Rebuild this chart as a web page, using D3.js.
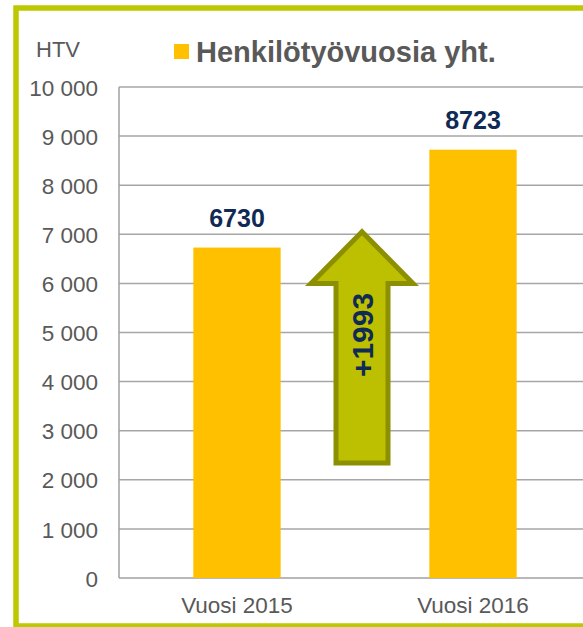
<!DOCTYPE html>
<html>
<head>
<meta charset="utf-8">
<script src="https://cdn.jsdelivr.net/npm/d3@7"></script>
<style>
	body { margin: 0; background: #fff; }
	svg text { font-family: "Liberation Sans", Arial, sans-serif; }
</style>
</head>
<body>
<div id="wrapper"></div>
<script>

// 1. Data

const categories = ["Vuosi 2015", "Vuosi 2016"];
const values = [6730, 8723];
const yTicks = [0, 1000, 2000, 3000, 4000, 5000, 6000, 7000, 8000, 9000, 10000];
const seriesName = "Henkilötyövuosia yht.";
const unitLabel = "HTV";
const change = values[1] - values[0];
// arrow annotation, in data units
const arrowBottom = 2340;
const arrowHeadBase = 6000;
const arrowTip = 7050;

// 2. Dimensions

let dimensions = {
	width: 583,
	height: 627,
	margin: { top: 87, right: -8, bottom: 49, left: 119 }
};
dimensions.boundedWidth = dimensions.width - dimensions.margin.left - dimensions.margin.right;
dimensions.boundedHeight = dimensions.height - dimensions.margin.top - dimensions.margin.bottom;

const wrapper = d3.select("#wrapper")
	.append("svg")
	.attr("width", dimensions.width)
	.attr("height", dimensions.height);

// frame
wrapper.append("rect")
	.attr("x", 16)
	.attr("y", 8)
	.attr("width", 640)
	.attr("height", 618)
	.style("fill", "none")
	.style("stroke", "#bec800")
	.style("stroke-width", 5.5);

const bounds = wrapper.append("g")
	.attr("transform", `translate(${dimensions.margin.left},${dimensions.margin.top})`);

// 3. Scales

const yScale = d3.scaleLinear()
	.domain([0, 10000])
	.range([dimensions.boundedHeight, 0]);

const xScale = d3.scaleBand()
	.domain(categories)
	.range([0, dimensions.boundedWidth])
	.paddingInner(0.63)
	.paddingOuter(0.315);

const fmt = d3.formatLocale({ decimal: ",", thousands: "\u00a0", grouping: [3], currency: ["", ""] }).format(",");

// 4. Grid and axes

bounds.append("g")
	.selectAll("line")
	.data(yTicks.filter(d => d > 0))
	.join("line")
	.attr("x1", 0)
	.attr("x2", dimensions.boundedWidth)
	.attr("y1", d => yScale(d))
	.attr("y2", d => yScale(d))
	.style("stroke", "#a6a6a6")
	.style("stroke-width", 1.5);

const yAxis = d3.axisLeft(yScale)
	.tickValues(yTicks)
	.tickSize(0)
	.tickPadding(21)
	.tickFormat(d => fmt(d));

const yAxisG = bounds.append("g").call(yAxis);
yAxisG.select(".domain").remove();
yAxisG.selectAll("text")
	.style("font-size", "22.5px")
	.style("fill", "#595959")
	.attr("dy", "0.36em");

const xAxis = d3.axisBottom(xScale).tickSize(0).tickPadding(19);
const xAxisG = bounds.append("g")
	.attr("transform", `translate(0,${dimensions.boundedHeight})`)
	.call(xAxis);
xAxisG.select(".domain").remove();
xAxisG.selectAll("text")
	.style("font-size", "22.5px")
	.style("fill", "#595959");

// axis lines
bounds.append("line")
	.attr("x1", 0).attr("x2", 0)
	.attr("y1", 0).attr("y2", dimensions.boundedHeight)
	.style("stroke", "#a0a0a0")
	.style("stroke-width", 1.5);
bounds.append("line")
	.attr("x1", 0).attr("x2", dimensions.boundedWidth)
	.attr("y1", dimensions.boundedHeight).attr("y2", dimensions.boundedHeight)
	.style("stroke", "#a0a0a0")
	.style("stroke-width", 1.5);

// 5. Bars

bounds.selectAll("rect.bar")
	.data(values)
	.join("rect")
	.attr("class", "bar")
	.attr("x", (d, i) => xScale(categories[i]))
	.attr("y", d => yScale(d))
	.attr("width", xScale.bandwidth())
	.attr("height", d => dimensions.boundedHeight - yScale(d))
	.style("fill", "#ffc000");

bounds.selectAll("text.value")
	.data(values)
	.join("text")
	.attr("class", "value")
	.attr("x", (d, i) => xScale(categories[i]) + xScale.bandwidth() / 2)
	.attr("y", d => yScale(d) - 21)
	.style("text-anchor", "middle")
	.style("font-size", "25px")
	.style("font-weight", "bold")
	.style("fill", "#0f2a54")
	.text(d => d);

// 6. Arrow

const arrowX = (xScale(categories[0]) + xScale.bandwidth() + xScale(categories[1])) / 2 + 7;
const shaftHalf = 26;
const headHalf = 51;
const arrowPoints = [
	[arrowX - shaftHalf, yScale(arrowBottom)],
	[arrowX - shaftHalf, yScale(arrowHeadBase)],
	[arrowX - headHalf, yScale(arrowHeadBase)],
	[arrowX, yScale(arrowTip)],
	[arrowX + headHalf, yScale(arrowHeadBase)],
	[arrowX + shaftHalf, yScale(arrowHeadBase)],
	[arrowX + shaftHalf, yScale(arrowBottom)]
];

bounds.append("path")
	.attr("d", d3.line()(arrowPoints) + "Z")
	.style("fill", "#bcc000")
	.style("stroke", "#8c9000")
	.style("stroke-width", 5)
	.style("stroke-linejoin", "miter");

bounds.append("text")
	.attr("transform", `translate(${arrowX},${yScale(4950)}) rotate(-90)`)
	.attr("dy", "0.36em")
	.style("text-anchor", "middle")
	.style("font-size", "30px")
	.style("font-weight", "bold")
	.style("fill", "#0f2a54")
	.text("+" + change);

// 7. Legend and unit label

wrapper.append("text")
	.attr("x", 36)
	.attr("y", 57)
	.style("font-size", "22px")
	.style("fill", "#595959")
	.text(unitLabel);

wrapper.append("rect")
	.attr("x", 174)
	.attr("y", 44)
	.attr("width", 15)
	.attr("height", 15)
	.style("fill", "#ffc000");

wrapper.append("text")
	.attr("x", 196)
	.attr("y", 62)
	.style("font-size", "29px")
	.style("font-weight", "bold")
	.style("fill", "#595959")
	.text(seriesName);

</script>
</body>
</html>
